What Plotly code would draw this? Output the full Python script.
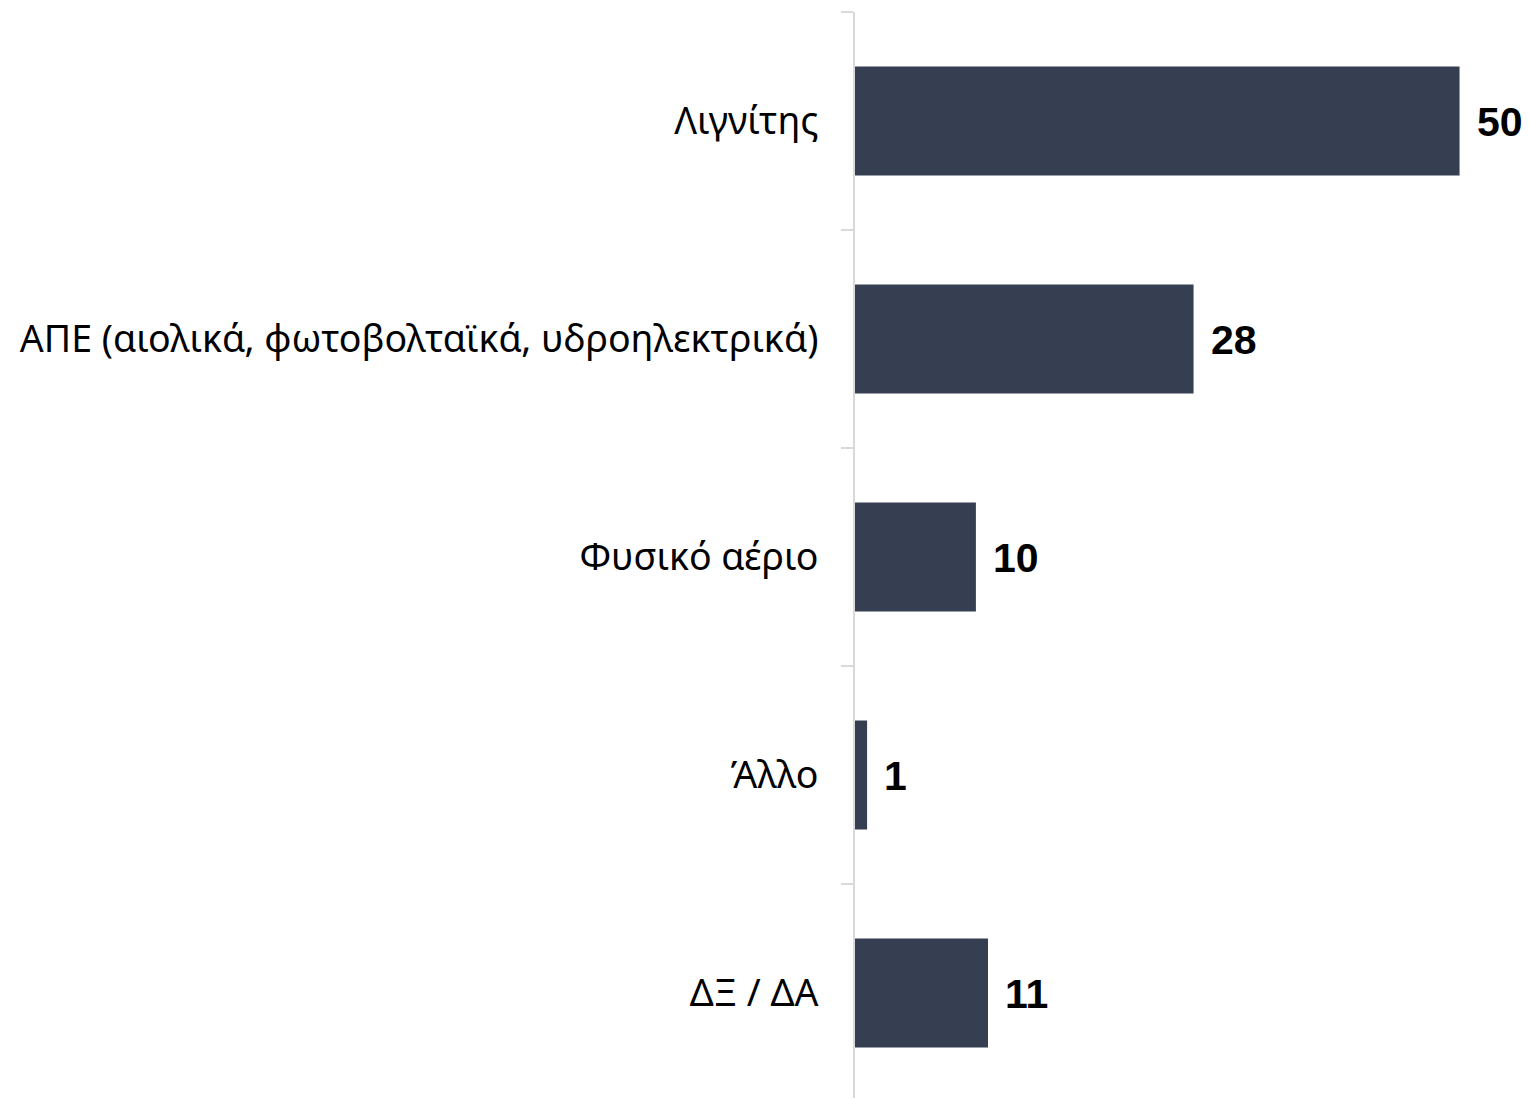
import plotly.graph_objects as go

categories = ["Λιγνίτης", "ΑΠΕ (αιολικά, φωτοβολταϊκά, υδροηλεκτρικά)", "Φυσικό αέριο", "Άλλο", "ΔΞ / ΔΑ"]
values = [50, 28, 10, 1, 11]

BAR_COLOR = "#353F51"

fig = go.Figure(
    go.Bar(
        x=values,
        y=categories,
        orientation="h",
        width=0.5,
        marker=dict(color=BAR_COLOR, line=dict(width=0)),
        hoverinfo="skip",
    )
)

for c, v in zip(categories, values):
    fig.add_annotation(
        x=v, y=c, text=f"<b>{v}</b>", showarrow=False,
        xanchor="left", yanchor="middle", xshift=15, yshift=-1,
        font=dict(family="Liberation Sans, Arial, sans-serif", size=41, color="#000000"),
    )

fig.update_layout(
    width=1514,
    height=1090,
    margin=dict(l=847, r=2, t=4, b=0, autoexpand=False),
    paper_bgcolor="white",
    plot_bgcolor="white",
    showlegend=False,
)

fig.update_xaxes(
    range=[0, 55],
    visible=False,
    showgrid=False,
    zeroline=False,
)

fig.update_yaxes(
    type="category",
    range=[4.482, -0.5],
    showline=True,
    linecolor="#D9D9D9",
    linewidth=2,
    ticks="outside",
    tickson="boundaries",
    ticklen=12,
    tickwidth=2,
    tickcolor="#D9D9D9",
    showgrid=False,
    zeroline=False,
    ticklabelstandoff=27,
    tickfont=dict(family="Noto Sans, DejaVu Sans, sans-serif", size=37.5, color="#000000"),
    automargin=False,
)

fig.write_html("out.html")
